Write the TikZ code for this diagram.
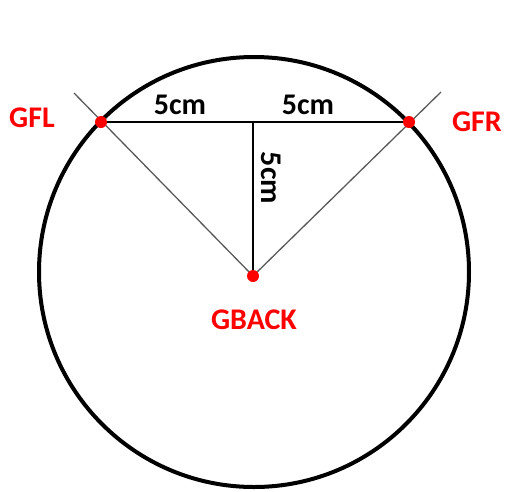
\documentclass[tikz,border=0pt]{standalone}
\usepackage{fontspec}
\setmainfont{Carlito}
\usepackage{tikz}
\usetikzlibrary{positioning}

\begin{document}
\begin{tikzpicture}[
        x=1pt, y=-1pt,
        every node/.style={font=\fontsize{30}{30}\selectfont\bfseries, inner sep=0pt},
        rim/.style={draw=black, line width=4pt},
        leg/.style={draw=black, line width=1.3pt},
        ray/.style={draw=black!65, line width=1.3pt},
        dot/.style={circle, fill=red, minimum size=12pt},
        tag/.style={text=red},
        dim/.style={text=black}
    ]
        \useasboundingbox (0,0) rectangle (506,491);

        % points on the rim and the centre
        \coordinate (centre) at (254,272);
        \coordinate (fl) at (101,122);
        \coordinate (fr) at (409,122);
        \coordinate (back) at (253,276);
        \coordinate (mid) at (253,122);
        \coordinate (flend) at (74,93);
        \coordinate (frend) at (441,92);

        \draw[rim] (centre) circle (215);

        \draw[ray] (back) -- (flend);
        \draw[ray] (back) -- (frend);
        \draw[leg] (fl) -- (fr);
        \draw[leg] (mid) -- (back);

        \node[dot] (gfl) at (fl) {};
        \node[dot] (gfr) at (fr) {};
        \node[dot] (gback) at (back) {};

        \node[tag] (lblfl) at (32,118) {GFL};
        \node[tag] (lblfr) at (477,122) {GFR};
        \node[tag] (lblback) at (254,320) {GBACK};

        \node[dim] (lenl) at (180,105) {5cm};
        \node[dim] (lenr) at (308,105) {5cm};
        \node[dim, rotate=-90] (lenv) at (271,178) {5cm};
    \end{tikzpicture}
\end{document}
